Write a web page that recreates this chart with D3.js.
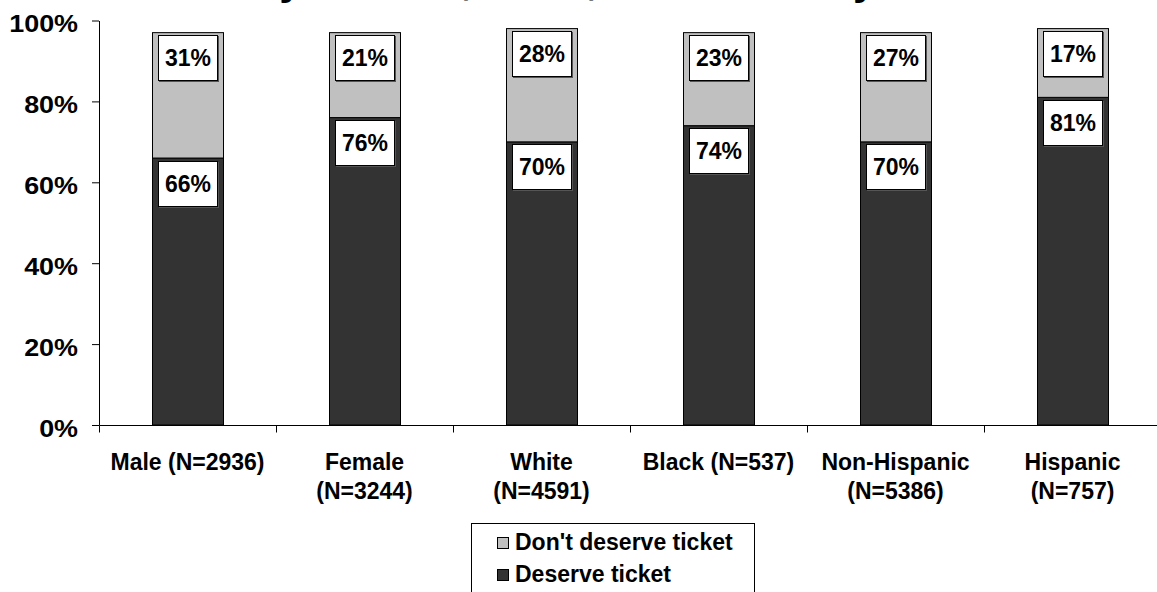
<!DOCTYPE html>
<html>
<head>
<meta charset="utf-8">
<script src="https://cdn.jsdelivr.net/npm/d3@7"></script>
<style>
  html, body { margin: 0; padding: 0; background: #fff; }
  svg { display: block; font-family: "Liberation Sans", Arial, sans-serif; font-weight: bold; }
</style>
</head>
<body>
<svg id="chart" width="1157" height="592"></svg>
<script>
// ---- data ----
const categories = ["Male (N=2936)", "Female (N=3244)", "White (N=4591)", "Black (N=537)", "Non-Hispanic (N=5386)", "Hispanic (N=757)"];
const deserveTicket = [66, 76, 70, 74, 70, 81];
const dontDeserveTicket = [31, 21, 28, 23, 27, 17];
const seriesNames = ["Don't deserve ticket", "Deserve ticket"];
const yTickValues = [0, 20, 40, 60, 80, 100];
const titleText = "by Gender, Race, and Ethnicity";

// ---- setup ----
const svg = d3.select("#chart");
const colors = { dark: "#333333", light: "#c0c0c0" };

const x = d3.scaleBand().domain(categories).range([99, 1161]).paddingInner(0.6).paddingOuter(0.3);
const y = d3.scaleLinear().domain([0, 100]).range([425, 20.5]);

// title (only its lower part is inside the picture, as in the reference)
svg.append("text")
  .attr("x", 565).attr("y", -6)
  .attr("text-anchor", "middle")
  .attr("font-size", 42.5)
  .attr("fill", "#000")
  .text(titleText);

// stacked rows
const rows = categories.map((c, i) => ({
  cat: c,
  segs: [
    { key: "deserve", y0: 0, y1: deserveTicket[i], v: deserveTicket[i], fill: colors.dark },
    { key: "dont", y0: deserveTicket[i], y1: deserveTicket[i] + dontDeserveTicket[i], v: dontDeserveTicket[i], fill: colors.light }
  ]
}));

const barG = svg.append("g");
rows.forEach(r => {
  r.segs.forEach(s => {
    barG.append("rect")
      .attr("x", Math.round(x(r.cat)) + 0.5)
      .attr("y", y(s.y1))
      .attr("width", Math.round(x.bandwidth()))
      .attr("height", y(s.y0) - y(s.y1))
      .attr("fill", s.fill)
      .attr("stroke", "#000")
      .attr("stroke-width", 1);
  });
});

// labels
const lblW = 59, lblH = 45;
rows.forEach(r => {
  const cx = x(r.cat) + x.bandwidth() / 2;
  r.segs.forEach(s => {
    const top = y(s.y1) + 2.5;
    const g = svg.append("g");
    g.append("rect")
      .attr("x", Math.round(cx - lblW / 2) + 1.5).attr("y", Math.round(top) + 1.5)
      .attr("width", lblW).attr("height", lblH)
      .attr("fill", "none").attr("stroke", "#555").attr("stroke-width", 1);
    g.append("rect")
      .attr("x", Math.round(cx - lblW / 2) + 0.5).attr("y", Math.round(top) + 0.5)
      .attr("width", lblW).attr("height", lblH)
      .attr("fill", "#fff").attr("stroke", "#000").attr("stroke-width", 1);
    g.append("text")
      .attr("x", cx + 0.5).attr("y", Math.round(top) + 31)
      .attr("text-anchor", "middle")
      .attr("font-size", 23)
      .text(s.v + "%");
  });
});

// y axis
const yAxis = svg.append("g")
  .attr("transform", "translate(99,0)")
  .call(d3.axisLeft(y).tickValues(yTickValues).tickFormat(d => d + "%").tickSize(7).tickSizeOuter(0));
yAxis.select(".domain").attr("stroke", "#000");
yAxis.selectAll(".tick line").attr("stroke", "#000");
const sx = 1.17;
yAxis.selectAll(".tick text")
  .attr("font-size", 23)
  .attr("font-family", "'Liberation Sans', Arial, sans-serif")
  .attr("fill", "#000")
  .attr("dy", null)
  .attr("x", -21 / sx)
  .attr("y", 11)
  .attr("transform", `scale(${sx},1)`);

// x axis
const xAxis = svg.append("g")
  .attr("transform", "translate(0,425)")
  .call(d3.axisBottom(x).tickSize(0).tickSizeOuter(0));
xAxis.select(".domain").attr("stroke", "#000");
xAxis.selectAll(".tick line").remove();
// boundary ticks
const bounds = categories.map(c => x(c) + x.bandwidth() / 2 - x.step() / 2).concat([x.range()[1]]);
xAxis.selectAll(".bound").data(bounds).join("line")
  .attr("x1", d => Math.round(d) + 0.5).attr("x2", d => Math.round(d) + 0.5)
  .attr("y1", 0.5).attr("y2", 7.5)
  .attr("stroke", "#000");

xAxis.selectAll(".tick text")
  .attr("font-size", 23)
  .attr("font-family", "'Liberation Sans', Arial, sans-serif")
  .attr("fill", "#000")
  .attr("dy", null)
  .attr("y", 45)
  .each(function (d) {
    const t = d3.select(this);
    const words = d.split(" ");
    t.text(null);
    const maxW = 159;
    let lines = [], cur = [];
    const probe = t.append("tspan");
    words.forEach(w => {
      const test = cur.concat([w]).join(" ");
      probe.text(test);
      if (probe.node().getComputedTextLength() > maxW && cur.length) {
        lines.push(cur.join(" "));
        cur = [w];
      } else {
        cur.push(w);
      }
    });
    lines.push(cur.join(" "));
    probe.remove();
    lines.forEach((ln, i) => {
      t.append("tspan").attr("x", 0).attr("y", 45 + i * 28.5).text(ln);
    });
  });

// legend
const lg = svg.append("g");
lg.append("rect")
  .attr("x", 471.5).attr("y", 523.5)
  .attr("width", 283).attr("height", 100)
  .attr("fill", "#fff").attr("stroke", "#000").attr("stroke-width", 1);
const legendFills = [colors.light, colors.dark];
seriesNames.forEach((n, i) => {
  const by = 550 + i * 31.7;
  lg.append("rect")
    .attr("x", 497.5).attr("y", Math.round(by - 13) + 0.5)
    .attr("width", 11).attr("height", 11)
    .attr("fill", legendFills[i]).attr("stroke", "#000").attr("stroke-width", 1);
  lg.append("text")
    .attr("x", 515).attr("y", by)
    .attr("font-size", 23)
    .text(n);
});
</script>
</body>
</html>
